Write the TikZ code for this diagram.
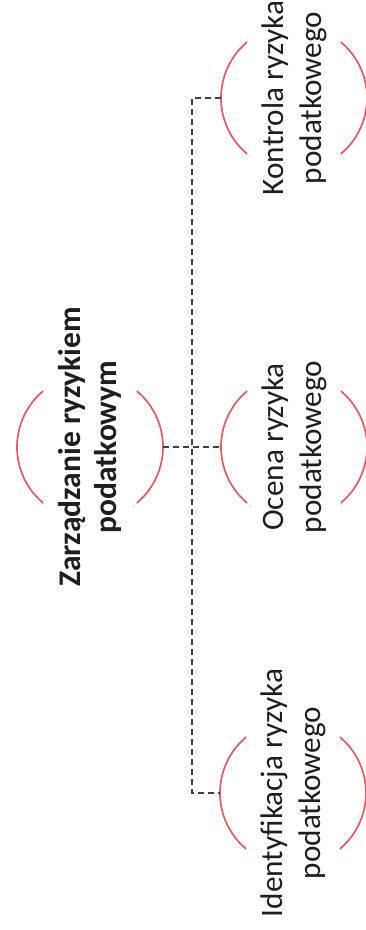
\documentclass[tikz,border=0pt]{standalone}
\usepackage{fontspec}
\setmainfont{Carlito}
\definecolor{arcred}{RGB}{222,92,104}
\definecolor{txt}{RGB}{30,30,30}
\begin{document}
\begin{tikzpicture}[x=1pt,y=1pt,
  ring/.style={circle,minimum size=146pt,inner sep=0pt,outer sep=0pt},
  lbl/.style={rotate=90,align=center,inner sep=0pt,text=txt,font=\fontsize{31.2}{38}\selectfont},
  bracket/.style={draw=arcred,line width=1.7pt},
  link/.style={draw=black!75,line width=1.4pt,dash pattern=on 6pt off 4pt}]
\fill[white] (0,0) rectangle (365,930);
\useasboundingbox (0,0) rectangle (365,930);
\node[ring] (main) at (90,483) {};
\node[ring] (ident) at (293,137) {};
\node[ring] (ocena) at (294,483) {};
\node[ring] (kontr) at (294,832) {};
\node[lbl,font=\fontsize{31.5}{36}\selectfont\bfseries] (mainT) at (main) {Zarządzanie ryzykiem\\podatkowym};
\node[lbl] (identT) at (ident) {Identyfikacja ryzyka\\podatkowego};
\node[lbl] (ocenaT) at (ocena) {Ocena ryzyka\\podatkowego};
\node[lbl] (kontrT) at (kontr) {Kontrola ryzyka\\podatkowego};
\foreach \r in {main,ident,ocena,kontr}{
  \draw[bracket] (\r.130) arc[start angle=130,end angle=230,radius=73pt];
  \draw[bracket] (\r.-50) arc[start angle=-50,end angle=50,radius=73pt];
}
\coordinate (bus) at (192,483);
\draw[link] (main.east) -- (ocena.west);
\draw[link] (kontr.west) -- (kontr.west -| bus) -- (ident.west -| bus) -- (ident.west);
\end{tikzpicture}
\end{document}
